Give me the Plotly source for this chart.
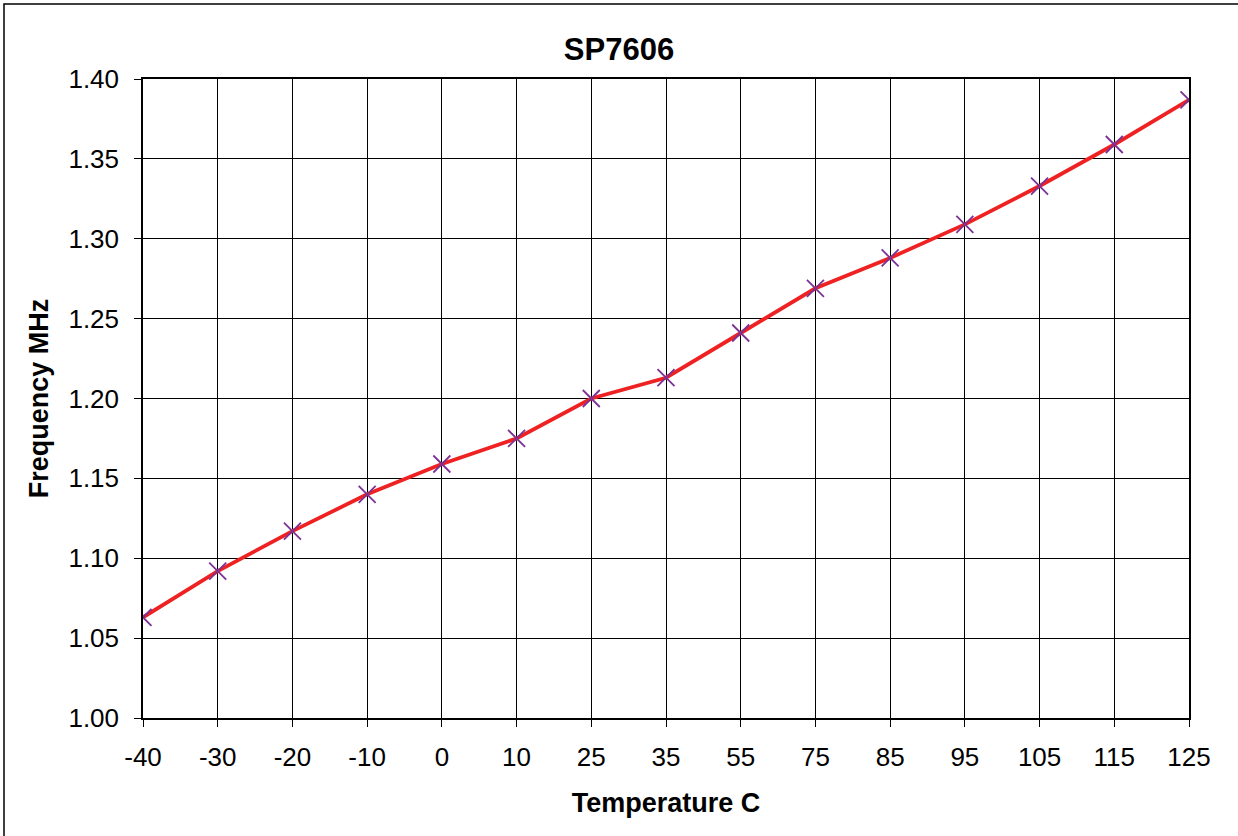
import plotly.graph_objects as go

temps = ["-40", "-30", "-20", "-10", "0", "10", "25", "35", "55", "75", "85", "95", "105", "115", "125"]
freq_mhz = [1.063, 1.092, 1.117, 1.140, 1.159, 1.175, 1.200, 1.213, 1.241, 1.269, 1.288, 1.309, 1.333, 1.359, 1.387]
y_ticks = [1.00, 1.05, 1.10, 1.15, 1.20, 1.25, 1.30, 1.35, 1.40]
y_tick_labels = ["%.2f" % v for v in y_ticks]

FONT = "Liberation Sans, Arial, sans-serif"

fig = go.Figure()
fig.add_trace(go.Scatter(
    x=temps, y=freq_mhz, mode="lines+markers",
    line=dict(color="#ee2222", width=3.8),
    marker=dict(symbol="x-thin-open", size=17, line=dict(color="#7b3294", width=1.8), color="#7b3294"),
    showlegend=False,
))

fig.update_layout(
    width=1238, height=836,
    margin=dict(l=143, r=49, t=79, b=118),
    paper_bgcolor="white", plot_bgcolor="white",
    font=dict(family=FONT, color="black"),
    title=dict(text="<b>SP7606</b>", x=0.5, xanchor="center", y=1 - 49/836, yanchor="middle",
               xref="container", font=dict(size=31, family=FONT, color="black")),
)
fig.update_xaxes(
    type="category", range=[0, len(temps) - 1],
    showgrid=True, gridcolor="black", gridwidth=1,
    showline=True, linecolor="black", linewidth=1.5, mirror=True,
    ticks="outside", ticklen=7, tickcolor="black", tickwidth=1,
    tickfont=dict(size=26, family=FONT, color="black"), ticklabelstandoff=8,
    title=dict(text="<b>Temperature C</b>", font=dict(size=27, family=FONT, color="black"), standoff=22),
    zeroline=False,
)
fig.update_yaxes(
    range=[1.00, 1.40], tickvals=y_ticks, ticktext=y_tick_labels,
    showgrid=True, gridcolor="black", gridwidth=1,
    showline=True, linecolor="black", linewidth=1.5, mirror=True,
    ticks="outside", ticklen=7, tickcolor="black", tickwidth=1,
    tickfont=dict(size=26, family=FONT, color="black"), ticklabelstandoff=10,
    title=dict(text="<b>Frequency MHz</b>", font=dict(size=27, family=FONT, color="black"), standoff=12),
    zeroline=False,
)

# outer chart frame
fig.add_shape(type="rect", xref="paper", yref="paper",
              x0=(4 - 143) / 1046, x1=(1240 - 143) / 1046,
              y0=(718 - 840) / 639, y1=(718 - 4) / 639,
              line=dict(color="black", width=1.5), fillcolor="rgba(0,0,0,0)", layer="below")

fig.write_html("out.html")
